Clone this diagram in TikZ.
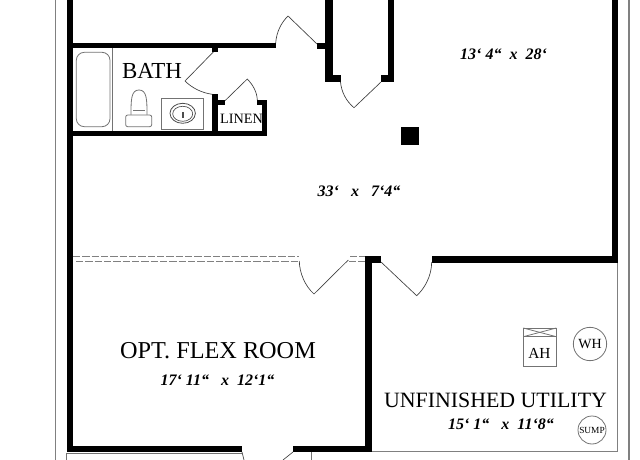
\documentclass[tikz,border=0pt]{standalone}
\usepackage{fontspec}
\setmainfont{Liberation Serif}
\tikzset{
  wall/.style={fill=black},
  thin line/.style={draw=black!50, line width=0.9pt},
  fixture/.style={draw=black!55, line width=0.6pt},
  swing/.style={draw=black!75, line width=0.5pt},
  partition/.style={draw=black!50, line width=0.6pt, dash pattern=on 5.5pt off 1.5pt},
  roomname/.style={inner sep=0pt, font=\fontsize{18.2}{20}\selectfont},
  roomsize/.style={inner sep=0pt, font=\bfseries\itshape\fontsize{12}{14}\selectfont}
}
\begin{document}
\begin{tikzpicture}[x=0.75pt, y=-0.75pt]
  \useasboundingbox (0,0) rectangle (640,460);

  % outer lines
  \draw[thin line] (55.7,0) -- (55.7,460);
  \draw[thin line] (629,0) -- (629,460);
  \draw[fixture] (66.7,460) -- (66.7,453) -- (242,453);
  \draw[fixture] (311.7,460) -- (311.7,452);
  \draw[thin line] (372,451.7) -- (617.7,451.7) -- (617.7,263);

  % walls
  \fill[wall] (66.7,0) rectangle (73.3,452);
  \fill[wall] (66.7,446) rectangle (242,452);
  \fill[wall] (293,446) rectangle (372,452);
  \fill[wall] (365,256) rectangle (372,452);
  \fill[wall] (365,256) rectangle (381,262.5);
  \fill[wall] (431.5,256) rectangle (618.3,262.5);
  \fill[wall] (611.7,0) rectangle (618.3,262.5);
  \fill[wall] (73,43) rectangle (276,48.5);
  \fill[wall] (317,43.5) rectangle (327,49);
  \fill[wall] (325,0) rectangle (333,82);
  \fill[wall] (325,75) rectangle (341,82);
  \fill[wall] (388,0) rectangle (394,82);
  \fill[wall] (381,75) rectangle (394,82);
  \fill[wall] (401,127) rectangle (419,145);
  \fill[wall] (73,130.7) rectangle (267.3,135.7);
  \fill[wall] (212.3,94) rectangle (217.7,131);
  \fill[wall] (212.3,100.5) rectangle (225,105.5);
  \fill[wall] (212.3,48) rectangle (217.7,52);
  \fill[wall] (257,100) rectangle (267.3,105.5);
  \fill[wall] (261.7,100) rectangle (267.3,135.7);

  % doors
  \draw[swing] (275.7,43) .. controls (276.5,32) and (281,23) .. (288,16) -- (317,44);
  \draw[swing] (340.5,82) .. controls (341.5,92) and (346,101) .. (354,107.7) -- (381,82);
  \draw[swing] (213.3,52) -- (185,81) .. controls (192,88) and (202,93) .. (212.3,94.3);
  \draw[swing] (225,100.7) -- (247.3,79) .. controls (253,85) and (257,92) .. (257.3,100);
  \draw[swing] (299.3,261) .. controls (299.5,273) and (305,286) .. (314,294) -- (348.3,260);
  \draw[swing] (381,262) -- (416.7,295.7) .. controls (425,288) and (431.5,276) .. (431.7,262);
  \draw[swing] (242,452) -- (244,460);
  \draw[swing] (293,452) -- (283,460);

  % partition
  \draw[partition] (73,256.7) -- (299,256.7);
  \draw[partition] (76,261.3) -- (299,261.3);
  \draw[partition] (350,256.7) -- (365,256.7);
  \draw[partition] (349,261.3) -- (365,261.3);

  % bath fixtures
  \draw[fixture] (112.7,48.5) -- (112.7,131);
  \draw[fixture, rounded corners=6pt] (76.3,52.3) rectangle (110,126.7);
  \draw[fixture, fill=white] (131,115) .. controls (131,100) and (131,90) .. (139,90) .. controls (147,90) and (147,100) .. (147,115);
  \draw[fixture] (133,110) -- (145,110);
  \draw[fixture, fill=white, rounded corners=1.5pt] (125.7,115) rectangle (151.7,126.7);
  \draw[fixture, line width=0.9pt] (161.7,98.7) rectangle (203.3,129.3);
  \draw[black!70, line width=0.6pt] (182.7,113.3) ellipse (12.7 and 10);
  \draw[black!70, line width=0.5pt] (182.7,113.8) ellipse (10 and 7.5);
  \fill[black!70] (181.7,112) rectangle (183.7,118);

  % utility fixtures
  \draw[fixture] (523.3,328) rectangle (556.3,366);
  \draw[fixture] (523.3,336.7) -- (556.3,336.7);
  \draw[fixture] (523.3,328) -- (556.3,336.7);
  \draw[fixture] (523.3,336.7) -- (556.3,328);
  \node[fixture, circle, minimum size=25pt, inner sep=0pt, font=\fontsize{10.5}{12}\selectfont] (waterheater) at (590,344) {WH};
  \node[fixture, circle, minimum size=21pt, inner sep=0pt, font=\fontsize{7}{9}\selectfont] (sump) at (592,430) {SUMP};

  % labels
  \node[roomname, font=\fontsize{17.2}{20}\selectfont] (bath) at (152,71) {BATH};
  \node[inner sep=0pt, font=\fontsize{10.7}{12}\selectfont] (linen) at (241.5,119) {LINEN};
  \node[inner sep=0pt, font=\fontsize{11.5}{13}\selectfont] (airhandler) at (539.5,353) {AH};
  \node[roomname] (flexroom) at (218,351) {OPT. FLEX ROOM};
  \node[roomname, font=\fontsize{16.4}{20}\selectfont] (utility) at (495.5,400) {UNFINISHED UTILITY};
  \node[roomsize] (mainsize) at (503.5,54) {13‘ 4“ ~x~ 28‘};
  \node[roomsize] (hallsize) at (359,191) {33‘ ~~x~~ 7‘4“};
  \node[roomsize] (flexsize) at (217.5,380) {17‘ 11“ ~~x~ 12‘1“};
  \node[roomsize] (utilitysize) at (501,424) {15‘ 1“ ~~x~ 11‘8“};
\end{tikzpicture}
\end{document}
